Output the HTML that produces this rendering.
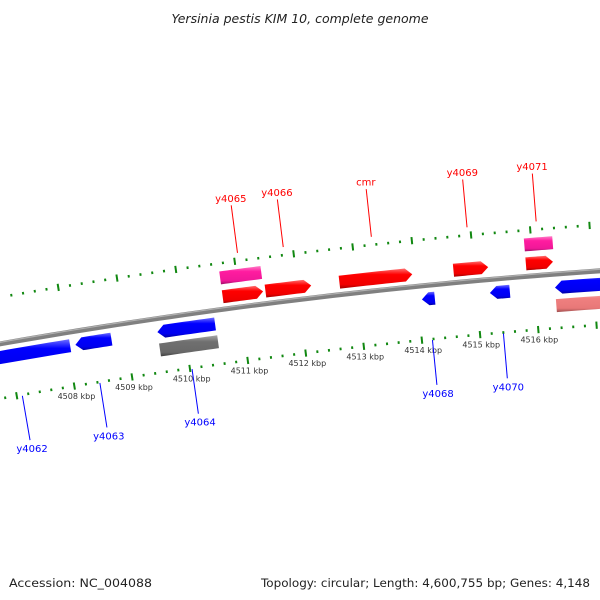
<!DOCTYPE html>
<html><head><meta charset="utf-8"><style>
html,body{margin:0;padding:0;background:#fff;}
svg{display:block;}
text{font-family:"DejaVu Sans","Liberation Sans",sans-serif;}
</style></head><body>
<svg id="chart" width="600" height="600" viewBox="0 0 600 600" xmlns="http://www.w3.org/2000/svg">
<defs>
<linearGradient id="g-red" x1="0" y1="0" x2="0" y2="1"><stop offset="0" stop-color="#ff7070"/><stop offset="0.3" stop-color="#ff0000"/><stop offset="0.8" stop-color="#f00000"/><stop offset="1" stop-color="#a00000"/></linearGradient>
<linearGradient id="g-blue" x1="0" y1="0" x2="0" y2="1"><stop offset="0" stop-color="#7070ff"/><stop offset="0.3" stop-color="#0000ff"/><stop offset="0.8" stop-color="#0000f0"/><stop offset="1" stop-color="#0000a0"/></linearGradient>
<linearGradient id="g-pink" x1="0" y1="0" x2="0" y2="1"><stop offset="0" stop-color="#ff80c8"/><stop offset="0.3" stop-color="#ff1ca0"/><stop offset="0.8" stop-color="#f01898"/><stop offset="1" stop-color="#a01068"/></linearGradient>
<linearGradient id="g-gray" x1="0" y1="0" x2="0" y2="1"><stop offset="0" stop-color="#a8a8a8"/><stop offset="0.3" stop-color="#707070"/><stop offset="0.8" stop-color="#686868"/><stop offset="1" stop-color="#404040"/></linearGradient>
<linearGradient id="g-salmon" x1="0" y1="0" x2="0" y2="1"><stop offset="0" stop-color="#f8b8b8"/><stop offset="0.3" stop-color="#f08080"/><stop offset="0.8" stop-color="#e87878"/><stop offset="1" stop-color="#a05050"/></linearGradient>
</defs>
<text x="300" y="23" text-anchor="middle" font-size="12.5" font-style="italic" fill="#222">Yersinia pestis KIM 10, complete genome</text>
<text x="9" y="587" font-size="11.5" fill="#222" textLength="143" lengthAdjust="spacingAndGlyphs">Accession: NC_004088</text>
<text x="590" y="587" text-anchor="end" font-size="11.5" fill="#222" textLength="329" lengthAdjust="spacingAndGlyphs">Topology: circular; Length: 4,600,755 bp; Genes: 4,148</text>
<g id="plot"></g>
</svg>
<script>
// ---- data ----
const geneNames  = ['y4062','y4063','y4064','y4064-misc','y4065','y4065-misc','y4066','cmr','y4068','y4069','y4070','y4071','y4071-misc','y4072','y4072-misc'];
const geneStarts = [4506.15,4508.13,4509.54,4509.54,4510.72,4510.72,4511.45,4512.71,4514.07,4514.65,4515.23,4515.88,4515.88,4516.34,4516.34];
const geneEnds   = [4508.04,4508.75,4510.53,4510.54,4511.41,4511.42,4512.23,4513.95,4514.29,4515.24,4515.57,4516.34,4516.36,4518.00,4518.00];
const geneStrand = [-1,-1,-1,0,1,0,1,1,-1,1,-1,1,0,-1,0];
const geneLane   = ['rev','rev','rev','rev2','fwd','fwd2','fwd','fwd','rev','fwd','rev','fwd','fwd2','rev','rev2'];
const geneColor  = ['blue','blue','blue','gray','red','pink','red','red','blue','red','blue','red','pink','blue','salmon'];
const geneLabels = ['y4062','y4063','y4064','','y4065','','y4066','cmr','y4068','y4069','y4070','y4071','','',''];
const tickKbp    = [4508,4509,4510,4511,4512,4513,4514,4515,4516];
const tickLabels = ['4508 kbp','4509 kbp','4510 kbp','4511 kbp','4512 kbp','4513 kbp','4514 kbp','4515 kbp','4516 kbp'];

// ---- geometry ----
const CX=1000, CY=6057, T0=-0.1618, K=0.01017;
const laneR = {fwd:[5806,5819], fwd2:[5825,5838], rev:[5780,5793], rev2:[5762,5775]};
const NS='http://www.w3.org/2000/svg';
const plot=document.getElementById('plot');
function theta(kbp){return T0+(kbp-4508)*K;}
function P(r,t){return [CX+r*Math.sin(t), CY-r*Math.cos(t)];}
function mk(tag,attrs){const e=document.createElementNS(NS,tag);for(const k in attrs)e.setAttribute(k,attrs[k]);plot.appendChild(e);return e;}
function arcPts(r,t1,t2,n){const a=[];for(let i=0;i<=n;i++){a.push(P(r,t1+(t2-t1)*i/n));}return a;}
function ptsStr(a){return a.map(p=>p[0].toFixed(2)+','+p[1].toFixed(2)).join(' ');}

// backbone
const bb=mk('polyline',{points:ptsStr(arcPts(5800,-0.19,-0.05,60)),fill:'none',stroke:'#808080','stroke-width':5});


const bbh=mk('polyline',{points:ptsStr(arcPts(5801.5,-0.19,-0.05,60)),fill:'none',stroke:'#b0b0b0','stroke-width':1.2});



// tick rings
[5846,5746].forEach((rr,ri)=>{
  const kStart = ri===0 ? 4507.2 : 4506.0;
  for(let k=kStart;k<=4518.01;k+=0.2){
    const kk=Math.round(k*10)/10;
    const major=Math.abs(kk-Math.round(kk))<0.01;
    const t=theta(kk);
    const h=major?3.6:1.3;
    const a=P(rr-h,t), b=P(rr+h,t);
    const ln=mk('line',{x1:a[0],y1:a[1],x2:b[0],y2:b[1],stroke:'#118811','stroke-width':2});
    
    
  }
});
// tick labels
tickKbp.forEach((k,i)=>{
  const p=P(5733,theta(k));
  const tx=mk('text',{x:p[0].toFixed(2),y:p[1].toFixed(2),'text-anchor':'middle','font-size':8,fill:'#333'});
  tx.textContent=tickLabels[i];
  
  
});

// genes
geneNames.forEach((nm,i)=>{
  const t1=theta(geneStarts[i]), t2=theta(geneEnds[i]);
  const [ri,ro]=laneR[geneLane[i]];
  const rm=(ri+ro)/2;
  let pts;
  const hd=7/rm;
  if(geneStrand[i]===1){
    const th=Math.max(t1,t2-hd);
    pts=arcPts(ro,t1,th,10).concat([P(rm,t2)]).concat(arcPts(ri,th,t1,10));
  } else if(geneStrand[i]===-1){
    const th=Math.min(t2,t1+hd);
    pts=[P(rm,t1)].concat(arcPts(ro,th,t2,10)).concat(arcPts(ri,t2,th,10));
  } else {
    pts=arcPts(ro,t1,t2,10).concat(arcPts(ri,t2,t1,10));
  }
  const g=mk('polygon',{points:ptsStr(pts),fill:'url(#g-'+geneColor[i]+')'});
  
  
  if(geneLabels[i]){
    const tc=(t1+t2)/2;
    const up=geneStrand[i]===1;
    const col=up?'#ff0000':'#0000ff';
    const a=P(up?5854:5745,tc), b=P(up?5902:5700,tc), c=P(up?5905.5:5688,tc);
    const l=mk('line',{x1:a[0],y1:a[1],x2:b[0],y2:b[1],stroke:col,'stroke-width':1});
    
    
    const tx=mk('text',{x:c[0].toFixed(2),y:c[1].toFixed(2),'text-anchor':'middle','font-size':10,fill:col});
    tx.textContent=geneLabels[i];
    
    
  }
});
</script>
</body></html>
